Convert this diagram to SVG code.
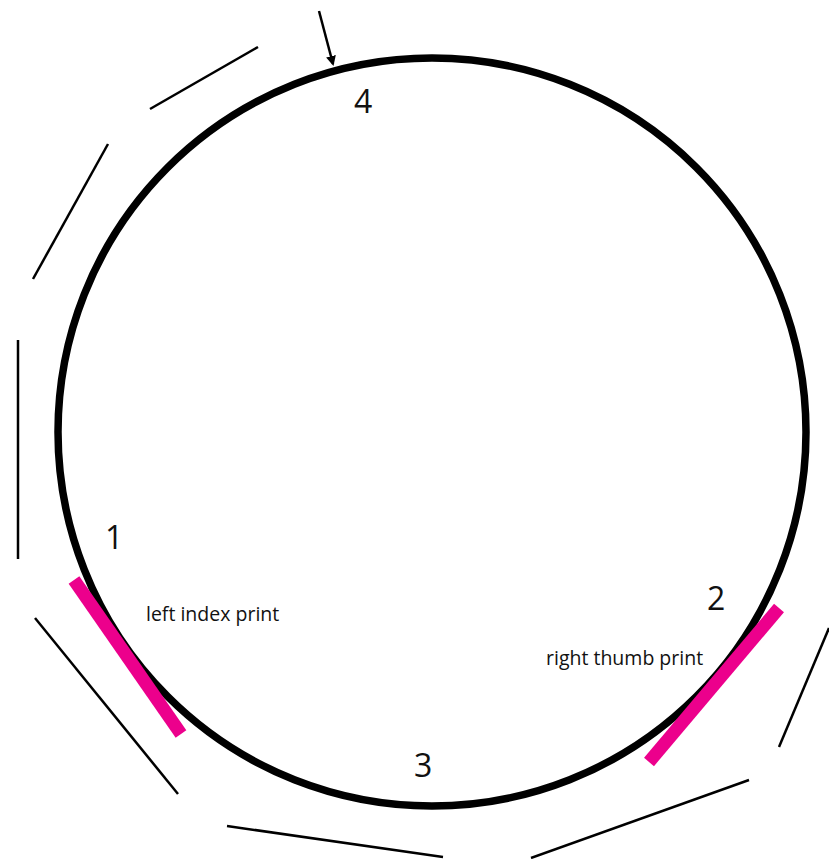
<svg xmlns="http://www.w3.org/2000/svg" width="829" height="859" viewBox="0 0 829 859">
<defs>
<style>
.thin{stroke:#000;stroke-width:2.5;fill:none;stroke-linecap:butt}
.pink{stroke:#ec008c;stroke-width:13;fill:none}
.num{font-family:"Open Sans","Noto Sans",sans-serif;font-size:32px;fill:#111}
.lbl{font-family:"Open Sans","Noto Sans",sans-serif;font-size:19.5px;fill:#111}
</style>
<marker id="ah" markerWidth="10" markerHeight="10" refX="8" refY="5" orient="auto" markerUnits="userSpaceOnUse" viewBox="0 0 10 10">
<path d="M0,0 L10,5 L0,10 z" fill="#000"/>
</marker>
</defs>
<g id="ring">
<circle cx="432" cy="432" r="374" fill="none" stroke="#000" stroke-width="7.5"/>
</g>
<g id="connectors">
<line class="thin" x1="150" y1="109" x2="258" y2="47"/>
<line class="thin" x1="33" y1="279" x2="108" y2="144"/>
<line class="thin" x1="18" y1="340" x2="18" y2="559"/>
<line class="thin" x1="35" y1="618" x2="178" y2="794"/>
<line class="thin" x1="227" y1="826" x2="443" y2="857"/>
<line class="thin" x1="531" y1="858" x2="749" y2="780"/>
<line class="thin" x1="779" y1="747" x2="829" y2="628"/>
<line x1="319" y1="11" x2="333" y2="64" stroke="#000" stroke-width="2.5" marker-end="url(#ah)"/>
</g>
<g id="left-index">
<line class="pink" x1="74" y1="580" x2="181" y2="734"/>
<text class="lbl" x="146" y="621">left index print</text>
</g>
<g id="right-thumb">
<line class="pink" x1="779" y1="608" x2="649" y2="762"/>
<text class="lbl" x="546" y="665">right thumb print</text>
</g>
<g id="n1"><text class="num" x="105" y="549">1</text></g>
<g id="n2"><text class="num" x="707" y="610">2</text></g>
<g id="n3"><text class="num" x="414" y="777">3</text></g>
<g id="n4"><text class="num" x="354" y="113">4</text></g>
</svg>
